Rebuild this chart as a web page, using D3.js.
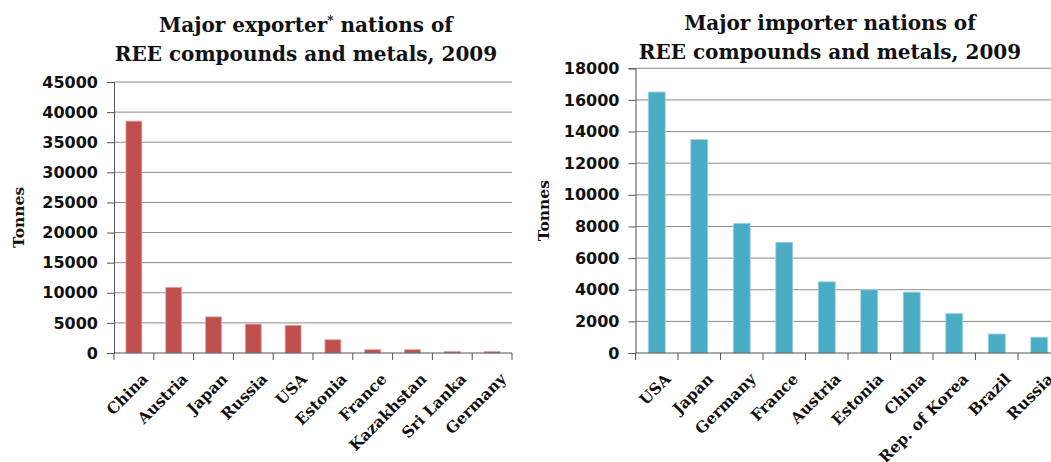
<!DOCTYPE html>
<html>
<head>
<meta charset="utf-8">
<script src="https://cdn.jsdelivr.net/npm/d3@7"></script>
<style>
  body { margin: 0; background: #fff; }
  .title { font-family: "DejaVu Serif", serif; font-weight: bold; font-size: 20px; fill: #111; }
  .ylabel { font-family: "DejaVu Serif", serif; font-weight: bold; font-size: 15.5px; fill: #111; }
  .tick text.num { font-family: "DejaVu Sans", sans-serif; font-weight: bold; font-size: 16px; fill: #111; }
  .cat { font-family: "DejaVu Serif", serif; font-weight: bold; font-size: 15.5px; fill: #111; }
</style>
</head>
<body>
<svg id="chart" width="1051" height="462"></svg>
<script>
// exporters, tonnes
const exportCountries = ["China", "Austria", "Japan", "Russia", "USA", "Estonia", "France", "Kazakhstan", "Sri Lanka", "Germany"];
const exportValues = [38500, 10900, 6000, 4800, 4600, 2200, 550, 550, 250, 250];
const exportTicks = [0, 5000, 10000, 15000, 20000, 25000, 30000, 35000, 40000, 45000];

// importers, tonnes
const importCountries = ["USA", "Japan", "Germany", "France", "Austria", "Estonia", "China", "Rep. of Korea", "Brazil", "Russia"];
const importValues = [16500, 13500, 8200, 7000, 4500, 4000, 3850, 2500, 1200, 1000];
const importTicks = [0, 2000, 4000, 6000, 8000, 10000, 12000, 14000, 16000, 18000];

const svg = d3.select("#chart");

function drawChart(opt) {
    let g = svg.append("g");

    let x = d3.scaleBand()
        .domain(opt.categories)
        .range([opt.left, opt.right])
        .padding(0);

    let y = d3.scaleLinear()
        .domain([0, d3.max(opt.ticks)])
        .range([opt.bottom, opt.top]);

    // gridlines
    g.selectAll(".grid")
        .data(opt.ticks.slice(1))
        .enter().append("line")
        .attr("x1", opt.left).attr("x2", opt.gridEnd)
        .attr("y1", d => y(d)).attr("y2", d => y(d))
        .attr("stroke", "#8c8c8c").attr("stroke-width", 1);

    // bars
    const barW = x.bandwidth() * 0.4;
    g.selectAll(".bar")
        .data(opt.values)
        .enter().append("rect")
        .attr("x", (d, i) => x(opt.categories[i]) + x.bandwidth() / 2 - barW / 2)
        .attr("y", d => y(d))
        .attr("width", barW)
        .attr("height", d => opt.bottom - y(d))
        .attr("fill", opt.color)
        .attr("stroke", opt.edge)
        .attr("stroke-width", 0.8);

    // y axis
    let yAxis = g.append("g")
        .attr("transform", `translate(${opt.left},0)`)
        .call(d3.axisLeft(y).tickValues(opt.ticks).tickSize(7).tickPadding(9).tickFormat(d3.format("d")));
    yAxis.select(".domain").attr("stroke", "#555");
    yAxis.selectAll(".tick line").attr("stroke", "#555");
    yAxis.selectAll(".tick text").attr("class", "num");

    // x axis line with ticks at band boundaries
    g.append("line")
        .attr("x1", opt.left).attr("x2", opt.right)
        .attr("y1", opt.bottom).attr("y2", opt.bottom)
        .attr("stroke", "#555");
    let bounds = opt.categories.map(c => x(c)).concat([opt.right]);
    g.selectAll(".xtick")
        .data(bounds)
        .enter().append("line")
        .attr("x1", d => d).attr("x2", d => d)
        .attr("y1", opt.bottom).attr("y2", opt.bottom + 7)
        .attr("stroke", "#555");

    // category labels (last one runs off the right edge, as in the original)
    g.selectAll(".cat")
        .data(opt.categories)
        .enter().append("text")
        .attr("class", "cat")
        .attr("text-anchor", "end")
        .attr("transform", d => `translate(${x(d) + x.bandwidth() / 2 + 15},${opt.bottom + 27}) rotate(-45)`)
        .text(d => d);

    // axis title
    svg.append("text")
        .attr("class", "ylabel")
        .attr("text-anchor", "middle")
        .attr("transform", `translate(${opt.ylabelX},${(opt.top + opt.bottom) / 2}) rotate(-90)`)
        .text("Tonnes");

    // chart title, "*" drawn as a small superscript
    opt.title.forEach((line, i) => {
        let t = svg.append("text")
            .attr("class", "title")
            .attr("text-anchor", "middle")
            .attr("x", opt.titleX)
            .attr("y", opt.titleY + i * 29);
        let shift = 0;
        line.split(/(\*)/).forEach(part => {
            if (part === "*") {
                t.append("tspan").attr("font-size", "12px").attr("dy", -7).text("*");
                shift = 7;
            } else if (part) {
                t.append("tspan").attr("dy", shift).text(part);
                shift = 0;
            }
        });
    });
}

drawChart({
    categories: exportCountries,
    values: exportValues,
    ticks: exportTicks,
    left: 114, right: 512, gridEnd: 512,
    top: 82, bottom: 353,
    color: "#c0504d", edge: "#e3a3a1",
    ylabelX: 24,
    titleX: 306, titleY: 32,
    title: ["Major exporter* nations of", "REE compounds and metals, 2009"]
});

drawChart({
    categories: importCountries,
    values: importValues,
    ticks: importTicks,
    left: 635.5, right: 1060.5, gridEnd: 1051,
    top: 68.3, bottom: 353,
    color: "#4bacc6", edge: "#a5d5e3",
    ylabelX: 549,
    titleX: 830, titleY: 30,
    title: ["Major importer nations of", "REE compounds and metals, 2009"]
});
</script>
</body>
</html>
